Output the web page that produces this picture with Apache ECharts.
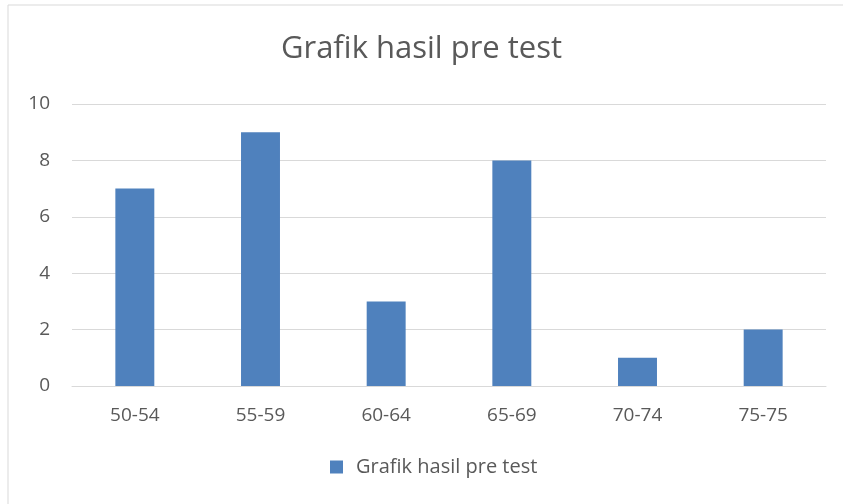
<!DOCTYPE html>
<html>
<head>
<meta charset="utf-8">
<script src="https://cdn.jsdelivr.net/npm/echarts@6/dist/echarts.min.js"></script>
<style>
  html, body { margin: 0; padding: 0; background: #fff; }
  #chart { width: 843px; height: 504px; }
</style>
</head>
<body>
<div id="chart"></div>
<script>
// data
const categories = ['50-54', '55-59', '60-64', '65-69', '70-74', '75-75']
const values = [7, 9, 3, 8, 1, 2]
const seriesName = 'Grafik hasil pre test'
const titleText = 'Grafik hasil pre test'

const chart = echarts.init(document.getElementById('chart'))

const fontFamily = '"Open Sans", "Liberation Sans", sans-serif'

chart.setOption({
  animation: false,
  backgroundColor: '#fff',
  textStyle: { fontFamily },
  graphic: [{
    // chart area border (cropped on right and bottom)
    type: 'rect',
    shape: { x: 8, y: 5, width: 900, height: 600 },
    style: { fill: 'none', stroke: '#D9D9D9', lineWidth: 1 },
    silent: true
  }],
  title: {
    text: titleText,
    left: 'center',
    top: 29,
    textStyle: { fontFamily, fontSize: 31, fontWeight: 'normal', color: '#595959' }
  },
  legend: {
    bottom: 22,
    left: 325,
    itemWidth: 13,
    itemHeight: 13,
    icon: 'rect',
    itemGap: 10,
    textStyle: { fontFamily, fontSize: 20, color: '#595959', padding: [0, 0, 0, 8] },
    data: [seriesName]
  },
  grid: { left: 72, right: 17, top: 104, bottom: 118 },
  xAxis: {
    type: 'category',
    data: categories,
    axisLine: { lineStyle: { color: '#D9D9D9' } },
    axisTick: { show: false },
    axisLabel: { fontSize: 19, color: '#595959', margin: 20 }
  },
  yAxis: {
    type: 'value',
    min: 0,
    max: 10,
    interval: 2,
    axisLine: { show: false },
    axisTick: { show: false },
    axisLabel: { fontSize: 19, color: '#595959', margin: 22 },
    splitLine: { lineStyle: { color: '#D9D9D9' } }
  },
  series: [{
    name: seriesName,
    type: 'bar',
    data: values,
    barWidth: '31%',
    itemStyle: { color: '#4F81BD' }
  }]
})
</script>
</body>
</html>
